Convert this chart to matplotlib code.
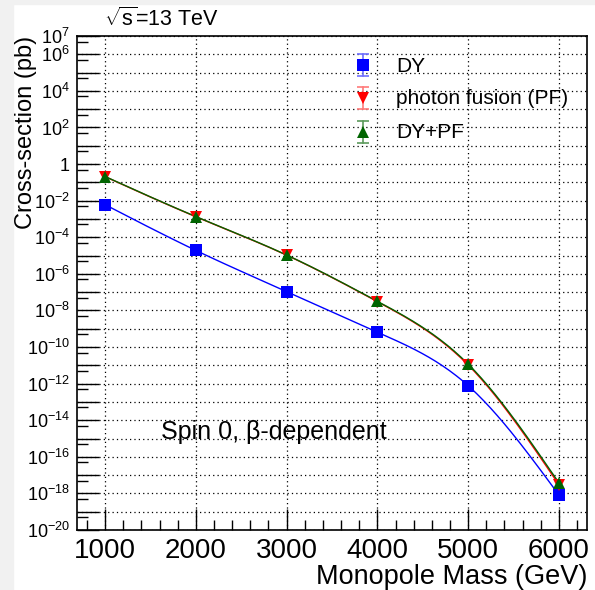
import matplotlib
matplotlib.use('Agg')
import matplotlib.pyplot as plt
from matplotlib.patches import Rectangle
from matplotlib.lines import Line2D
from matplotlib.ticker import FixedLocator, NullFormatter
import numpy as np

plt.rcParams['font.family'] = ['Liberation Sans', 'DejaVu Sans']
plt.rcParams['mathtext.fontset'] = 'custom'
plt.rcParams['mathtext.rm'] = 'Liberation Sans'
plt.rcParams['mathtext.it'] = 'Liberation Sans:italic'

# monopole mass points (GeV)
mass = [1000, 2000, 3000, 4000, 5000, 6000]
# log10 of cross-section (pb)
log_dy = [-2.22, -4.72, -6.97, -9.19, -12.11, -18.08]
log_pf = [-0.69, -2.88, -4.98, -7.52, -10.98, -17.52]
log_sum = [-0.68, -2.87, -4.97, -7.50, -10.93, -17.42]

series_labels = ['DY', 'photon fusion (PF)', 'DY+PF']
ytick_exp = list(range(-20, 8, 2)) + [7]


def smooth(x, y, n=200):
    # natural cubic spline through the points, for a ROOT "C"-style curve
    x = np.asarray(x, float)
    y = np.asarray(y, float)
    k = len(x)
    h = np.diff(x)
    A = np.zeros((k, k))
    b = np.zeros(k)
    A[0, 0] = A[-1, -1] = 1
    for i in range(1, k - 1):
        A[i, i - 1] = h[i - 1]
        A[i, i] = 2 * (h[i - 1] + h[i])
        A[i, i + 1] = h[i]
        b[i] = 6 * ((y[i + 1] - y[i]) / h[i] - (y[i] - y[i - 1]) / h[i - 1])
    M = np.linalg.solve(A, b)
    xs = np.linspace(x[0], x[-1], n)
    idx = np.clip(np.searchsorted(x, xs) - 1, 0, k - 2)
    x0, x1 = x[idx], x[idx + 1]
    hh = x1 - x0
    t0 = x1 - xs
    t1 = xs - x0
    ys = (M[idx] * t0**3 + M[idx + 1] * t1**3) / (6 * hh) \
        + (y[idx] / hh - M[idx] * hh / 6) * t0 \
        + (y[idx + 1] / hh - M[idx + 1] * hh / 6) * t1
    return xs, 10**ys


W, H = 595, 590
fig = plt.figure(figsize=(W / 100, H / 100), dpi=100)
fig.patches.append(Rectangle((0, 0), 13 / W, 1, transform=fig.transFigure,
                             color='#f1f1f1', zorder=-1))
fig.patches.append(Rectangle((0, 1 - 4 / H), 1, 4 / H, transform=fig.transFigure,
                             color='#f1f1f1', zorder=-1))
ax = fig.add_axes([77 / W, 1 - 530 / H, 510 / W, 494 / H])

styles = [
    (log_dy, 'blue', 's', 8.5, '#7070ff'),
    (log_pf, 'red', 'v', 9, '#ff7a7a'),
    (log_sum, 'darkgreen', '^', 9, '#5c9a5c'),
]
for vals, col, mk, ms, ecol in styles:
    xs, ys = smooth(mass, vals)
    ax.plot(xs, ys, color=col, lw=1.0, zorder=3)
    ax.plot(mass, 10**np.array(vals), mk, color=col, ms=ms, mew=0, zorder=4)

ax.set_yscale('log')
ax.set_xlim(690, 6310)
ax.set_ylim(1e-20, 1e7)

ax.set_xticks(mass)
ax.set_xticks(np.arange(800, 6301, 200), minor=True)
ax.set_xticklabels([str(m) for m in mass], fontsize=20)

ax.yaxis.set_major_locator(FixedLocator([10.0**e for e in range(-20, 8)]))
ax.yaxis.set_minor_locator(FixedLocator([5 * 10.0**e for e in range(-20, 7)]))
ax.yaxis.set_minor_formatter(NullFormatter())
ylabs = []
for e in range(-20, 8):
    if e in ytick_exp:
        ylabs.append('1' if e == 0 else r'$10^{%d}$' % e)
    else:
        ylabs.append('')
ax.set_yticklabels(ylabs, fontsize=13)

ax.tick_params(which='both', direction='in', top=False, right=False, width=1.0)
ax.tick_params(axis='x', which='major', length=15, pad=6)
ax.tick_params(axis='x', which='minor', length=7)
ax.tick_params(axis='y', which='major', length=16, pad=5)
ax.tick_params(axis='y', which='minor', length=8)

ax.grid(True, which='major', color='black', linestyle=(0, (1, 2.5)), lw=0.9)
for s in ax.spines.values():
    s.set_linewidth(1.2)

ax.set_xlabel('Monopole Mass (GeV)', fontsize=19.5, loc='right', labelpad=0)
ax.set_ylabel('Cross-section (pb)', fontsize=17, loc='top', labelpad=-7)

fig.text(104 / W, 1 - 19 / H, r'$\sqrt{\mathrm{s}}$=13 TeV', fontsize=15.5,
         va='center', ha='left')
fig.text(161 / W, 1 - 432 / H, 'Spin 0, β-dependent', fontsize=18,
         va='center', ha='left')

# legend drawn by hand: marker with error bar and caps, then the label
leg_x = 363
leg_rows = [65, 98, 132]
for (vals, col, mk, ms, ecol), lab, ly in zip(styles, series_labels, leg_rows):
    fx = leg_x / W
    fy0 = 1 - (ly + 11) / H
    fy1 = 1 - (ly - 11) / H
    fig.add_artist(Line2D([fx, fx], [fy0, fy1], color=ecol, lw=1.2,
                          transform=fig.transFigure))
    fig.add_artist(Line2D([fx, fx], [fy0, fy1], ls='none', marker='_', ms=8,
                          mew=1.2, color=ecol, transform=fig.transFigure))
    fig.add_artist(Line2D([fx], [1 - ly / H], ls='none', marker=mk, ms=ms,
                          mew=0, color=col, transform=fig.transFigure))
    fig.text(396 / W, 1 - (ly + 1) / H, lab, fontsize=15, va='center', ha='left')

fig.savefig('out.png', dpi=100)
